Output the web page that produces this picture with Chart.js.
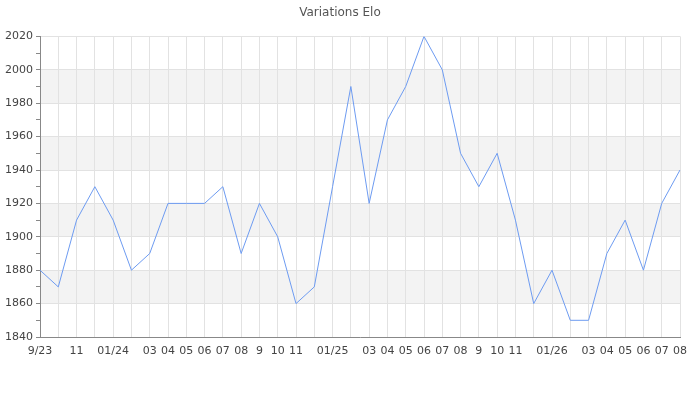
<!DOCTYPE html>
<html lang="fr">
<head>
<meta charset="UTF-8">
<title>Variations Elo</title>
<script src="https://cdn.jsdelivr.net/npm/chart.js"></script>
<style>
  body { margin: 0; background: #fff; }
  #wrap { width: 700px; height: 400px; }
</style>
</head>
<body>
<div id="wrap"><canvas id="eloChart" width="700" height="400"></canvas></div>
<script>
// one point per month, 09/2023 -> 08/2026
const monthLabels = ['9/23', '', '11', '', '01/24', '', '03', '04', '05', '06', '07', '08',
                     '9', '10', '11', '', '01/25', '', '03', '04', '05', '06', '07', '08',
                     '9', '10', '11', '', '01/26', '', '03', '04', '05', '06', '07', '08'];
const eloValues = [1880, 1870, 1910, 1930, 1910, 1880, 1890, 1920, 1920, 1920, 1930, 1890,
                   1920, 1900, 1860, 1870, 1930, 1990, 1920, 1970, 1990, 2020, 2000, 1950,
                   1930, 1950, 1910, 1860, 1880, 1850, 1850, 1890, 1910, 1880, 1920, 1940];
const yMin = 1840;
const yMax = 2020;
const bandStep = 20;

// alternating grey bands behind the grid
const bandPlugin = {
    id: 'bands',
    beforeDraw(chart) {
        const { ctx, chartArea, scales } = chart;
        const y = scales.y;
        ctx.save();
        ctx.fillStyle = '#f3f3f3';
        for (let v = yMin + bandStep; v < yMax; v += bandStep * 2) {
            const top = y.getPixelForValue(v + bandStep);
            const bottom = y.getPixelForValue(v);
            ctx.fillRect(chartArea.left, top, chartArea.right - chartArea.left, bottom - top);
        }
        ctx.restore();
    }
};

const ctx = document.getElementById('eloChart').getContext('2d');
const chart = new Chart(ctx, {
    type: 'line',
    data: {
        labels: monthLabels,
        datasets: [{
            label: 'Elo',
            data: eloValues,
            borderColor: '#6d9bf1',
            borderWidth: 1,
            pointRadius: 0,
            tension: 0,
            fill: false
        }]
    },
    options: {
        responsive: false,
        animation: false,
        layout: { padding: { right: 20, top: 0, bottom: 0, left: 0 } },
        plugins: {
            legend: { display: false },
            tooltip: { enabled: false },
            title: {
                display: true,
                text: 'Variations Elo',
                color: '#555',
                font: { family: 'DejaVu Sans', size: 12, weight: 'normal' },
                padding: { top: 6, bottom: 16 }
            }
        },
        scales: {
            x: {
                grid: {
                    color: '#e2e2e2',
                    drawTicks: false
                },
                border: { color: '#888' },
                ticks: {
                    autoSkip: false,
                    maxRotation: 0,
                    color: '#444',
                    padding: 8,
                    font: { family: 'DejaVu Sans', size: 11 }
                },
                afterFit(scale) { scale.height = 63; }
            },
            y: {
                min: yMin,
                max: yMax,
                grid: {
                    color: (c) => (c.tick && c.tick.value % 20 === 0) ? '#e2e2e2' : 'rgba(0,0,0,0)',
                    tickColor: '#888',
                    tickLength: 4
                },
                border: { color: '#888' },
                ticks: {
                    stepSize: 10,
                    color: '#444',
                    padding: 3,
                    font: { family: 'DejaVu Sans', size: 11 },
                    callback: (v) => (v % 20 === 0) ? v : ''
                },
                afterFit(scale) { scale.width = 40; }
            }
        }
    },
    plugins: [bandPlugin]
});
</script>
</body>
</html>
